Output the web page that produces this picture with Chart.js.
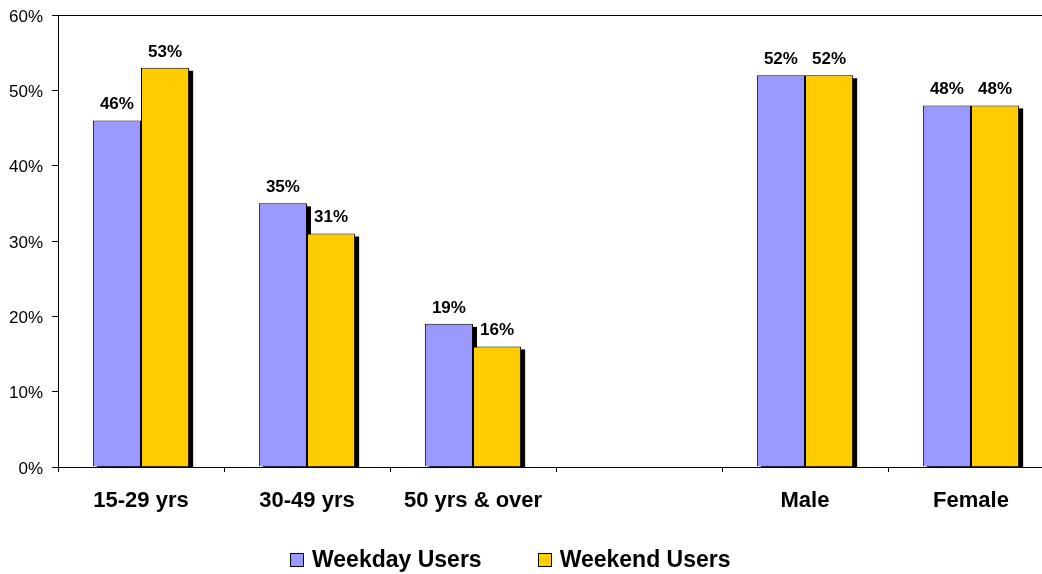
<!DOCTYPE html>
<html>
<head>
<meta charset="utf-8">
<script src="https://cdn.jsdelivr.net/npm/chart.js@4/dist/chart.umd.min.js"></script>
<style>
  html, body { margin: 0; padding: 0; background: #fff; overflow: hidden; }
  #wrap { position: relative; width: 1042px; height: 574px; overflow: hidden; }
  #legend {
    position: absolute; left: 290px; top: 546px;
    display: flex; align-items: center;
    font: bold 23px "Liberation Sans", Arial, sans-serif; color: #000;
  }
  #legend .box { width: 12px; height: 12px; border: 1px solid #000; margin-right: 8px; }
  #legend .item { display: flex; align-items: center; margin-right: 56px; }
</style>
</head>
<body>
<div id="wrap">
  <canvas id="chartCanvas" width="1058" height="574"></canvas>
  <div id="legend"></div>
</div>
<script>
// Datos del gráfico
const categories = ["15-29 yrs", "30-49 yrs", "50 yrs & over", "", "Male", "Female"];
const weekdayUsers = [46, 35, 19, null, 52, 48];
const weekendUsers = [53, 31, 16, null, 52, 48];
const seriesNames = ["Weekday Users", "Weekend Users"];
const seriesColors = ["#9999FF", "#FFCC00"];
const yTicks = [0, 10, 20, 30, 40, 50, 60];

const fontFamily = '"Liberation Sans", Arial, sans-serif';

// Sombra negra detrás de cada barra, etiquetas y línea superior
const shadowPlugin = {
  id: "barShadow",
  beforeDatasetsDraw(chart) {
    const ctx = chart.ctx;
    const base = chart.chartArea.bottom;
    ctx.save();
    ctx.fillStyle = "#000";
    chart.data.datasets.forEach((ds, i) => {
      chart.getDatasetMeta(i).data.forEach((bar, j) => {
        if (ds.data[j] == null) return;
        const w = bar.width;
        ctx.fillRect(bar.x - w / 2 + 4, bar.y + 3, w, base - bar.y - 3);
      });
    });
    ctx.restore();
  },
  afterDatasetsDraw(chart) {
    const ctx = chart.ctx;
    ctx.save();
    // Etiquetas de valores
    ctx.fillStyle = "#000";
    ctx.font = "bold 17px " + fontFamily;
    ctx.textAlign = "center";
    ctx.textBaseline = "alphabetic";
    chart.data.datasets.forEach((ds, i) => {
      chart.getDatasetMeta(i).data.forEach((bar, j) => {
        if (ds.data[j] == null) return;
        ctx.fillText(ds.data[j] + "%", bar.x, bar.y - 11);
      });
    });
    // Línea superior del área del gráfico
    const a = chart.chartArea;
    ctx.strokeStyle = "#000";
    ctx.lineWidth = 1;
    ctx.beginPath();
    ctx.moveTo(a.left, a.top + 0.5);
    ctx.lineTo(a.right, a.top + 0.5);
    ctx.stroke();
    ctx.restore();
  }
};

const ctx = document.getElementById("chartCanvas").getContext("2d");

const chart = new Chart(ctx, {
  type: "bar",
  data: {
    labels: categories,
    datasets: [
      {
        label: seriesNames[0],
        data: weekdayUsers,
        backgroundColor: seriesColors[0],
        borderColor: "#000",
        borderWidth: 1,
        categoryPercentage: 0.58,
        barPercentage: 1.0
      },
      {
        label: seriesNames[1],
        data: weekendUsers,
        backgroundColor: seriesColors[1],
        borderColor: "#000",
        borderWidth: 1,
        categoryPercentage: 0.58,
        barPercentage: 1.0
      }
    ]
  },
  options: {
    responsive: false,
    animation: false,
    devicePixelRatio: 1,
    layout: { padding: { top: 15, left: 0, right: 4, bottom: 57 } },
    plugins: {
      legend: { display: false },
      tooltip: { enabled: false }
    },
    scales: {
      x: {
        grid: { display: true, drawOnChartArea: false, offset: true, tickLength: 5, color: "#000" },
        border: { display: true, color: "#000", width: 1 },
        ticks: {
          color: "#000",
          padding: 16,
          maxRotation: 0,
          font: { family: fontFamily, size: 22, weight: "bold" }
        },
        afterFit(scale) { scale.height = 50; }
      },
      y: {
        min: 0,
        max: 60,
        afterBuildTicks(scale) { scale.ticks = yTicks.map(v => ({ value: v })); },
        grid: { display: true, drawOnChartArea: false, tickLength: 6, color: "#000" },
        border: { display: true, color: "#000", width: 1 },
        ticks: {
          color: "#000",
          padding: 9,
          labelOffset: 2,
          font: { family: fontFamily, size: 17, lineHeight: 1 },
          callback: v => v + "%"
        },
        afterFit(scale) {
          scale.width = 58;
          scale.paddingTop = 0;
          scale.paddingBottom = 0;
        }
      }
    }
  },
  plugins: [shadowPlugin]
});

// Leyenda en HTML
const legendEl = document.getElementById("legend");
seriesNames.forEach((name, i) => {
  const item = document.createElement("div");
  item.className = "item";
  const box = document.createElement("span");
  box.className = "box";
  box.style.background = seriesColors[i];
  const text = document.createElement("span");
  text.textContent = name;
  item.appendChild(box);
  item.appendChild(text);
  legendEl.appendChild(item);
});
</script>
</body>
</html>
